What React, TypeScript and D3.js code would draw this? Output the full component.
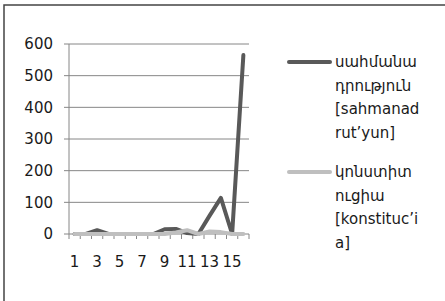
import React from 'react';
import * as d3 from 'd3';

const categories = d3.range(1, 17).map(String);
const sahmanadrutyun = [0, 0, 12, 0, 0, 0, 0, 0, 15, 16, 3, 0, 58, 114, 0, 565];
const konstitucia = [0, 0, 0, 0, 0, 0, 0, 0, 0, 5, 12, 0, 8, 6, 0, 0];
const yTicks = [0, 100, 200, 300, 400, 500, 600];
const xLabels = ['1', '3', '5', '7', '9', '11', '13', '15'];

const series = [
  { values: sahmanadrutyun, color: '#595959', label: ['սահմանա', 'դրություն', '[sahmanad', 'rut’yun]'], y: 62 },
  { values: konstitucia, color: '#bfbfbf', label: ['կոնստիտ', 'ուցիա', '[konstituc’i', 'a]'], y: 172 },
];

const W = 445;
const H = 301;
const plot = { left: 69, right: 249, top: 44, bottom: 234 };
const font = "'DejaVu Sans', sans-serif";

export default function App() {
  const x = d3.scaleBand().domain(categories).range([plot.left, plot.right]);
  const y = d3.scaleLinear().domain([0, 600]).range([plot.bottom, plot.top]);
  const cx = (c: string) => (x(c) as number) + x.bandwidth() / 2;

  const line = d3
    .line<number>()
    .x((_, i) => cx(categories[i]))
    .y((d) => y(d));

  const bounds = d3.range(categories.length + 1).map((i) => plot.left + i * x.bandwidth());

  return (
    <svg width={W} height={H} style={{ position: 'absolute', left: 0, top: 0 }} fontFamily={font}>
      <rect x={0} y={0} width={W} height={H} fill="#fff" />
      <rect x={4} y={5} width={W} height={H} fill="none" stroke="#444" strokeWidth={1.5} />

      {/* grid + y ticks */}
      {yTicks.map((t) => (
        <g key={t}>
          <line x1={plot.left - 5} x2={plot.right} y1={y(t)} y2={y(t)} stroke="#868686" strokeWidth={1} />
          <text x={53} y={y(t)} dy="0.36em" textAnchor="end" fontSize={15} fill="#1a1a1a">
            {t}
          </text>
        </g>
      ))}
      <line x1={plot.left} x2={plot.left} y1={plot.top} y2={plot.bottom} stroke="#868686" />

      {/* x ticks */}
      {bounds.map((b, i) => (
        <line key={i} x1={b} x2={b} y1={plot.bottom} y2={plot.bottom + 5} stroke="#868686" />
      ))}
      {xLabels.map((l) => (
        <text key={l} x={cx(l)} y={262} dy="0.36em" textAnchor="middle" fontSize={15} fill="#1a1a1a">
          {l}
        </text>
      ))}

      {/* series */}
      {series.map((s, i) => (
        <path
          key={i}
          d={line(s.values) as string}
          fill="none"
          stroke={s.color}
          strokeWidth={4}
          strokeLinejoin="round"
          strokeLinecap="round"
        />
      ))}

      {/* legend */}
      {series.map((s, i) => (
        <g key={i}>
          <line x1={289} x2={330} y1={s.y} y2={s.y} stroke={s.color} strokeWidth={4} strokeLinecap="round" />
          {s.label.map((t, j) => (
            <text key={j} x={335} y={s.y + j * 23.5} dy="0.36em" fontSize={15} fill="#1a1a1a">
              {t}
            </text>
          ))}
        </g>
      ))}
    </svg>
  );
}
